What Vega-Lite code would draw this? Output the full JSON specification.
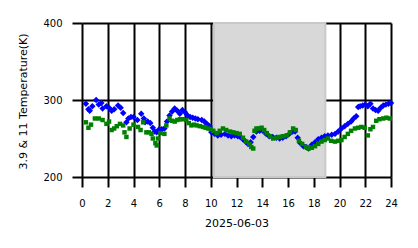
{
  "$schema": "https://vega.github.io/schema/vega-lite/v6.json",
  "autosize": "none",
  "width": 309,
  "height": 154,
  "padding": {"left": 82, "top": 23, "right": 27, "bottom": 71},
  "background": "white",
  "config": {
    "view": {"stroke": null},
    "font": "DejaVu Sans",
    "axis": {
      "grid": true, "gridColor": "black", "gridWidth": 2, "gridOpacity": 1,
      "domain": false, "ticks": true, "tickColor": "black", "tickWidth": 2, "tickSize": 10,
      "labelFont": "DejaVu Sans", "labelFontSize": 10, "labelColor": "black",
      "titleFont": "DejaVu Sans", "titleFontSize": 11, "titleFontWeight": "normal", "titleColor": "black",
      "zindex": 1
    }
  },
  "datasets": {
    "band": [{"start": 10.25, "end": 18.9}],
    "b39": [
      {"hour": 0.3, "temp": 295}, {"hour": 0.5, "temp": 288}, {"hour": 0.6, "temp": 286}, {"hour": 0.8, "temp": 292},
      {"hour": 1.1, "temp": 300}, {"hour": 1.3, "temp": 294}, {"hour": 1.5, "temp": 296}, {"hour": 1.6, "temp": 289},
      {"hour": 1.9, "temp": 292}, {"hour": 2.1, "temp": 290}, {"hour": 2.3, "temp": 286}, {"hour": 2.5, "temp": 288},
      {"hour": 2.8, "temp": 293}, {"hour": 3.0, "temp": 290}, {"hour": 3.2, "temp": 283}, {"hour": 3.45, "temp": 271},
      {"hour": 3.6, "temp": 276}, {"hour": 3.8, "temp": 278}, {"hour": 4.0, "temp": 278}, {"hour": 4.3, "temp": 274},
      {"hour": 4.6, "temp": 282}, {"hour": 4.8, "temp": 276}, {"hour": 4.9, "temp": 271}, {"hour": 5.1, "temp": 272},
      {"hour": 5.3, "temp": 270}, {"hour": 5.5, "temp": 264}, {"hour": 5.65, "temp": 259}, {"hour": 5.8, "temp": 258},
      {"hour": 6.0, "temp": 262}, {"hour": 6.2, "temp": 262}, {"hour": 6.4, "temp": 263}, {"hour": 6.6, "temp": 272},
      {"hour": 6.8, "temp": 280}, {"hour": 7.0, "temp": 285}, {"hour": 7.2, "temp": 289}, {"hour": 7.4, "temp": 286},
      {"hour": 7.6, "temp": 282}, {"hour": 7.8, "temp": 287}, {"hour": 8.0, "temp": 284}, {"hour": 8.2, "temp": 280},
      {"hour": 8.4, "temp": 278}, {"hour": 8.6, "temp": 277}, {"hour": 8.8, "temp": 276}, {"hour": 9.0, "temp": 275},
      {"hour": 9.3, "temp": 274}, {"hour": 9.5, "temp": 272}, {"hour": 9.7, "temp": 269}, {"hour": 9.9, "temp": 266},
      {"hour": 10.05, "temp": 258}, {"hour": 10.3, "temp": 256}, {"hour": 10.55, "temp": 254}, {"hour": 10.8, "temp": 255},
      {"hour": 11.1, "temp": 256}, {"hour": 11.35, "temp": 254}, {"hour": 11.6, "temp": 253}, {"hour": 11.85, "temp": 254},
      {"hour": 12.1, "temp": 253}, {"hour": 12.3, "temp": 252}, {"hour": 12.5, "temp": 249}, {"hour": 12.7, "temp": 246},
      {"hour": 12.9, "temp": 243}, {"hour": 13.1, "temp": 245}, {"hour": 13.3, "temp": 252}, {"hour": 13.55, "temp": 259},
      {"hour": 13.8, "temp": 260}, {"hour": 14.05, "temp": 260}, {"hour": 14.3, "temp": 256}, {"hour": 14.55, "temp": 253},
      {"hour": 14.8, "temp": 252}, {"hour": 15.1, "temp": 251}, {"hour": 15.35, "temp": 250}, {"hour": 15.6, "temp": 251},
      {"hour": 15.85, "temp": 253}, {"hour": 16.1, "temp": 256}, {"hour": 16.35, "temp": 259}, {"hour": 16.55, "temp": 259},
      {"hour": 16.75, "temp": 251}, {"hour": 16.95, "temp": 244}, {"hour": 17.2, "temp": 240}, {"hour": 17.4, "temp": 239},
      {"hour": 17.6, "temp": 237}, {"hour": 17.85, "temp": 242}, {"hour": 18.1, "temp": 245}, {"hour": 18.35, "temp": 249},
      {"hour": 18.6, "temp": 251}, {"hour": 18.85, "temp": 253}, {"hour": 19.1, "temp": 254}, {"hour": 19.4, "temp": 255},
      {"hour": 19.65, "temp": 256}, {"hour": 19.9, "temp": 259}, {"hour": 20.15, "temp": 263}, {"hour": 20.4, "temp": 266},
      {"hour": 20.65, "temp": 269}, {"hour": 20.9, "temp": 272}, {"hour": 21.1, "temp": 276}, {"hour": 21.3, "temp": 279},
      {"hour": 21.45, "temp": 291}, {"hour": 21.6, "temp": 292}, {"hour": 21.8, "temp": 293}, {"hour": 22.0, "temp": 294},
      {"hour": 22.2, "temp": 292}, {"hour": 22.4, "temp": 295}, {"hour": 22.6, "temp": 289}, {"hour": 22.8, "temp": 287},
      {"hour": 23.0, "temp": 286}, {"hour": 23.2, "temp": 290}, {"hour": 23.4, "temp": 293}, {"hour": 23.6, "temp": 294},
      {"hour": 23.8, "temp": 295}, {"hour": 24.0, "temp": 296}
    ],
    "b11": [
      {"hour": 0.3, "temp": 271}, {"hour": 0.5, "temp": 264}, {"hour": 0.7, "temp": 268}, {"hour": 1.0, "temp": 276},
      {"hour": 1.3, "temp": 276}, {"hour": 1.6, "temp": 274}, {"hour": 1.9, "temp": 269}, {"hour": 2.1, "temp": 272},
      {"hour": 2.3, "temp": 261}, {"hour": 2.5, "temp": 263}, {"hour": 2.7, "temp": 266}, {"hour": 2.95, "temp": 269},
      {"hour": 3.2, "temp": 267}, {"hour": 3.3, "temp": 258}, {"hour": 3.45, "temp": 252}, {"hour": 3.7, "temp": 263},
      {"hour": 4.0, "temp": 268}, {"hour": 4.35, "temp": 265}, {"hour": 4.55, "temp": 261}, {"hour": 4.75, "temp": 271},
      {"hour": 5.0, "temp": 258}, {"hour": 5.2, "temp": 258}, {"hour": 5.4, "temp": 256}, {"hour": 5.5, "temp": 250},
      {"hour": 5.7, "temp": 244}, {"hour": 5.8, "temp": 241}, {"hour": 5.9, "temp": 250}, {"hour": 6.1, "temp": 257},
      {"hour": 6.4, "temp": 256}, {"hour": 6.55, "temp": 267}, {"hour": 6.8, "temp": 276}, {"hour": 7.0, "temp": 273},
      {"hour": 7.2, "temp": 272}, {"hour": 7.4, "temp": 274}, {"hour": 7.6, "temp": 275}, {"hour": 7.8, "temp": 275},
      {"hour": 8.1, "temp": 274}, {"hour": 8.3, "temp": 270}, {"hour": 8.5, "temp": 267}, {"hour": 8.7, "temp": 268},
      {"hour": 8.9, "temp": 267}, {"hour": 9.15, "temp": 266}, {"hour": 9.4, "temp": 265}, {"hour": 9.6, "temp": 264},
      {"hour": 9.8, "temp": 263}, {"hour": 10.0, "temp": 262}, {"hour": 10.2, "temp": 260}, {"hour": 10.45, "temp": 257},
      {"hour": 10.7, "temp": 260}, {"hour": 10.95, "temp": 263}, {"hour": 11.2, "temp": 261}, {"hour": 11.5, "temp": 259},
      {"hour": 11.75, "temp": 258}, {"hour": 12.0, "temp": 257}, {"hour": 12.25, "temp": 256}, {"hour": 12.5, "temp": 251},
      {"hour": 12.75, "temp": 246}, {"hour": 13.0, "temp": 243}, {"hour": 13.15, "temp": 239}, {"hour": 13.3, "temp": 237},
      {"hour": 13.4, "temp": 260}, {"hour": 13.55, "temp": 263}, {"hour": 13.75, "temp": 263}, {"hour": 13.95, "temp": 264},
      {"hour": 14.15, "temp": 261}, {"hour": 14.35, "temp": 257}, {"hour": 14.6, "temp": 253}, {"hour": 14.85, "temp": 250},
      {"hour": 15.1, "temp": 251}, {"hour": 15.35, "temp": 252}, {"hour": 15.6, "temp": 253}, {"hour": 15.9, "temp": 254},
      {"hour": 16.15, "temp": 258}, {"hour": 16.4, "temp": 263}, {"hour": 16.6, "temp": 261}, {"hour": 16.85, "temp": 247},
      {"hour": 17.1, "temp": 243}, {"hour": 17.4, "temp": 239}, {"hour": 17.6, "temp": 237}, {"hour": 17.85, "temp": 238},
      {"hour": 18.1, "temp": 240}, {"hour": 18.35, "temp": 243}, {"hour": 18.6, "temp": 246}, {"hour": 18.85, "temp": 248},
      {"hour": 19.1, "temp": 250}, {"hour": 19.35, "temp": 247}, {"hour": 19.65, "temp": 246}, {"hour": 19.9, "temp": 247},
      {"hour": 20.15, "temp": 248}, {"hour": 20.4, "temp": 252}, {"hour": 20.65, "temp": 256}, {"hour": 20.9, "temp": 260},
      {"hour": 21.2, "temp": 263}, {"hour": 21.45, "temp": 264}, {"hour": 21.7, "temp": 265}, {"hour": 21.95, "temp": 264},
      {"hour": 22.2, "temp": 254}, {"hour": 22.4, "temp": 262}, {"hour": 22.6, "temp": 265}, {"hour": 22.85, "temp": 273},
      {"hour": 23.1, "temp": 275}, {"hour": 23.4, "temp": 276}, {"hour": 23.65, "temp": 277}, {"hour": 23.9, "temp": 276}
    ]
  },
  "encoding": {
    "x": {
      "field": "hour", "type": "quantitative",
      "scale": {"domain": [0, 24], "nice": false, "zero": false},
      "axis": {"values": [0, 2, 4, 6, 8, 10, 12, 14, 16, 18, 20, 22, 24], "labelPadding": 11, "labelFlush": false,
               "title": "2025-06-03", "titleY": 46, "titleBaseline": "middle", "titlePadding": 0}
    }
  },
  "layer": [
    {
      "data": {"name": "band"},
      "mark": {"type": "rect", "color": "#d8d8d8", "stroke": "#c9c9c9", "strokeWidth": 2},
      "encoding": {
        "x": {"field": "start", "type": "quantitative"},
        "x2": {"field": "end"}
      }
    },
    {
      "data": {"name": "b39"},
      "mark": {"type": "point", "shape": "diamond", "filled": true, "color": "#0000ff", "size": 42, "opacity": 1},
      "encoding": {
        "y": {
          "field": "temp", "type": "quantitative",
          "scale": {"domain": [200, 400], "nice": false, "zero": false},
          "axis": {"values": [200, 300, 400], "labelPadding": 10, "title": "3.9 & 11 Temperature(K)",
                   "titleX": -59, "titleY": 78, "titleAngle": -90, "titleAlign": "center", "titleBaseline": "middle"}
        }
      }
    },
    {
      "data": {"name": "b11"},
      "mark": {"type": "square", "color": "#008000", "size": 20, "opacity": 1},
      "encoding": {
        "y": {"field": "temp", "type": "quantitative"}
      }
    }
  ]
}
